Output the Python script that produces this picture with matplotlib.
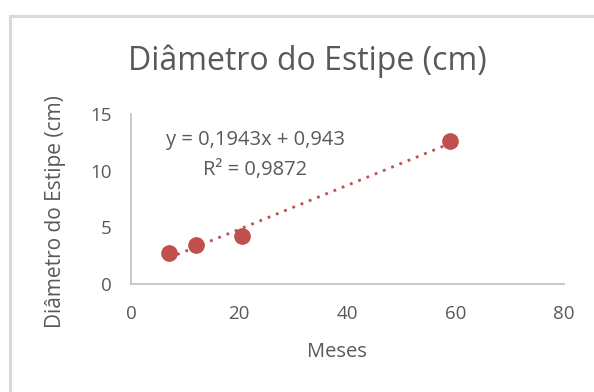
import matplotlib
matplotlib.use("Agg")
import matplotlib.pyplot as plt
from matplotlib.lines import Line2D
import numpy as np

meses = [7, 12, 20.5, 59]
diametro = [2.7, 3.4, 4.2, 12.6]
slope = 0.1943
intercept = 0.943
r2 = 0.9872
x_ticks = [0, 20, 40, 60, 80]
y_ticks = [0, 5, 10, 15]

font = "Open Sans"
txt = "#595959"
red = "#C0504D"
grid_c = "#BFBFBF"

fig = plt.figure(figsize=(5.94, 3.92), dpi=100)
W, H = 594, 392
ax = fig.add_axes([131 / W, 1 - 284 / H, (564 - 131) / W, (284 - 114) / H])

xs = np.array([min(meses), max(meses)])
ax.plot(xs, slope * xs + intercept, linestyle=(0, (1, 2.2)), color=red, lw=2.0, zorder=2)
ax.plot(meses, diametro, "o", color=red, ms=11, zorder=3, clip_on=False)

ax.set_xlim(0, 80)
ax.set_ylim(0, 15)
ax.set_xticks(x_ticks)
ax.set_yticks(y_ticks)
ax.tick_params(axis="x", length=0, labelsize=13.5, labelcolor=txt, pad=15)
ax.tick_params(axis="y", length=0, labelsize=13.5, labelcolor=txt, pad=14)
for lab in ax.get_xticklabels() + ax.get_yticklabels():
    lab.set_fontfamily(font)
for s in ["top", "right"]:
    ax.spines[s].set_visible(False)
for s in ["left", "bottom"]:
    ax.spines[s].set_color(grid_c)
    ax.spines[s].set_linewidth(1.2)

fig.text(307 / W, 1 - 61 / H, "Diâmetro do Estipe (cm)", ha="center", va="center",
         fontsize=23, color=txt, family=font)
fig.text(337 / W, 1 - 352 / H, "Meses", ha="center", va="center",
         fontsize=14.5, color=txt, family=font)
fig.text(56 / W, 1 - 212 / H, "Diâmetro do Estipe (cm)", ha="center", va="center",
         rotation=90, fontsize=15, color=txt, family=font)
fig.text(255 / W, 1 - 140 / H, f"y = {slope:.4f}x + {intercept:.3f}".replace(".", ","),
         ha="center", va="center", fontsize=14.5, color=txt, family=font)
fig.text(255 / W, 1 - 170 / H, f"R² = {r2:.4f}".replace(".", ","),
         ha="center", va="center", fontsize=14.5, color=txt, family=font)

border = "#D9D9D9"
fig.add_artist(Line2D([10 / W, 1.0], [1 - 16 / H, 1 - 16 / H], color=border, lw=2.2))
fig.add_artist(Line2D([10 / W, 10 / W], [1 - 16 / H, 0], color=border, lw=2.2))

fig.savefig("out.png", dpi=100, facecolor="white")
